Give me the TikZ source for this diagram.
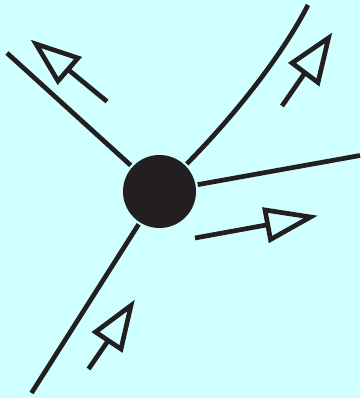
\documentclass[tikz,border=0pt]{standalone}
\usetikzlibrary{calc}
\begin{document}
\begin{tikzpicture}[x=1pt,y=-1pt,
  line width=4.7pt,
  ink/.style={draw=inkc},
  hub/.style={circle, fill=inkc, draw=none, minimum size=73pt, inner sep=0pt},
  flow/.style={draw=inkc, line cap=butt},
  head/.style={draw=inkc, line join=miter}]
\definecolor{bgc}{HTML}{CFFFFF}
\definecolor{inkc}{HTML}{231F20}
\fill[bgc] (0,0) rectangle (360,398);
\useasboundingbox (0,0) rectangle (360,398);
\node[hub] (c) at (159.5,191.5) {};
% wires
\coordinate (ul) at (7,53);
\coordinate (ur) at (308,5);
\coordinate (r) at (360,155.5);
\coordinate (ll) at (31.5,393);
\draw[ink] (ul) -- (c);
\draw[ink] (c) .. controls (240,110) and (285,50) .. (ur);
\draw[ink] (c) -- (r);
\draw[ink] (c) -- (ll);
% arrow 1 upper left
\coordinate (a1t) at (107,101.5);
\coordinate (a1p) at (36,44);
\coordinate (a1q) at (78,58);
\coordinate (a1r) at (58,81);
\draw[flow] (a1t) -- ($(a1q)!0.5!(a1r)$);
\draw[head] (a1p) -- (a1q) -- (a1r) -- cycle;
% arrow 2 upper right
\coordinate (a2t) at (282,106);
\coordinate (a2p) at (328.5,38);
\coordinate (a2q) at (292,63);
\coordinate (a2r) at (318,82.5);
\draw[flow] (a2t) -- ($(a2q)!0.5!(a2r)$);
\draw[head] (a2p) -- (a2q) -- (a2r) -- cycle;
% arrow 3 right
\coordinate (a3t) at (195,238);
\coordinate (a3p) at (310.5,217);
\coordinate (a3q) at (265,210);
\coordinate (a3r) at (270.5,239.5);
\draw[flow] (a3t) -- ($(a3q)!0.5!(a3r)$);
\draw[head] (a3p) -- (a3q) -- (a3r) -- cycle;
% arrow 4 lower left
\coordinate (a4t) at (88.5,369);
\coordinate (a4p) at (131,305.5);
\coordinate (a4q) at (95.5,332);
\coordinate (a4r) at (121,349);
\draw[flow] (a4t) -- ($(a4q)!0.5!(a4r)$);
\draw[head] (a4p) -- (a4q) -- (a4r) -- cycle;
\end{tikzpicture}
\end{document}
